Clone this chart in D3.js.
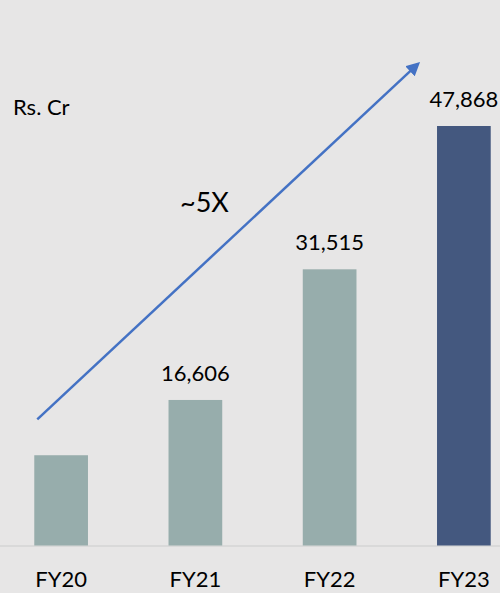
<!DOCTYPE html>
<html>
<head>
<meta charset="utf-8">
<script src="https://cdn.jsdelivr.net/npm/d3@7"></script>
<style>
  body { margin: 0; background: #e7e6e6; }
  svg { display: block; font-family: Lato, 'Open Sans', sans-serif; }
</style>
</head>
<body>
<svg></svg>
<script>
const years = ['FY20', 'FY21', 'FY22', 'FY23'];
const revenue = [10300, 16606, 31515, 47868];
const shownLabels = ['', '16,606', '31,515', '47,868'];
const barColors = ['#97adac', '#97adac', '#97adac', '#44587f'];

const w = 500, h = 593;
const baseY = 545.5;

const svg = d3.select('svg')
    .attr('width', w)
    .attr('height', h);

svg.append('rect')
    .attr('width', w)
    .attr('height', h)
    .style('fill', '#e7e6e6');

const xScale = d3.scaleBand()
    .domain(years)
    .range([-6, 531])
    .paddingInner(0.6)
    .paddingOuter(0.3);

const yScale = d3.scaleLinear()
    .domain([0, 47868])
    .range([baseY, 126]);

// baseline
svg.append('line')
    .attr('x1', 0).attr('x2', w)
    .attr('y1', baseY + 0.5).attr('y2', baseY + 0.5)
    .style('stroke', '#d4d4d4')
    .style('stroke-width', 1.5);

svg.selectAll('rect.bar')
    .data(years)
    .enter()
    .append('rect')
    .attr('class', 'bar')
    .attr('x', d => xScale(d))
    .attr('width', xScale.bandwidth())
    .attr('y', (d, i) => yScale(revenue[i]))
    .attr('height', (d, i) => baseY - yScale(revenue[i]))
    .style('fill', (d, i) => barColors[i]);

// value labels
svg.selectAll('text.val')
    .data(years)
    .enter()
    .append('text')
    .attr('class', 'val')
    .attr('x', d => xScale(d) + xScale.bandwidth() / 2)
    .attr('y', (d, i) => yScale(revenue[i]) - 19)
    .style('text-anchor', 'middle')
    .style('font-size', '22px')
    .style('fill', '#000')
    .text((d, i) => shownLabels[i]);

// x-axis labels
const xAxis = d3.axisBottom(xScale).tickSize(0).tickPadding(26);
const gx = svg.append('g')
    .attr('transform', `translate(0, ${baseY})`)
    .call(xAxis);
gx.select('.domain').remove();
gx.selectAll('text')
    .style('font-family', "Lato, 'Open Sans', sans-serif")
    .style('font-size', '22px')
    .style('fill', '#000');

// unit label
svg.append('text')
    .attr('x', 13)
    .attr('y', 115)
    .style('font-size', '22px')
    .style('fill', '#000')
    .text('Rs. Cr');

// growth arrow
const arrowFrom = { year: 'FY20', value: 14400 };
const arrowTo = { year: 'FY23', value: 55500 };
const defs = svg.append('defs');
defs.append('marker')
    .attr('id', 'head')
    .attr('viewBox', '0 0 10 10')
    .attr('refX', 5)
    .attr('refY', 5)
    .attr('markerWidth', 5.5)
    .attr('markerHeight', 5.5)
    .attr('orient', 'auto')
    .append('path')
    .attr('d', 'M0,0 L10,5 L0,10 z')
    .style('fill', '#4472c4');

const x1 = xScale(arrowFrom.year) + 3;
const y1 = yScale(arrowFrom.value);
const x2 = xScale(arrowTo.year) - 14;
const y2 = yScale(arrowTo.value);
svg.append('line')
    .attr('x1', x1).attr('y1', y1)
    .attr('x2', x2 - 8).attr('y2', y2 + 7.5)
    .style('stroke', '#4472c4')
    .style('stroke-width', 2.5)
    .attr('marker-end', 'url(#head)');

svg.append('text')
    .attr('x', 180)
    .attr('y', 212)
    .style('font-size', '27px')
    .style('fill', '#000')
    .text('~5X');
</script>
</body>
</html>
